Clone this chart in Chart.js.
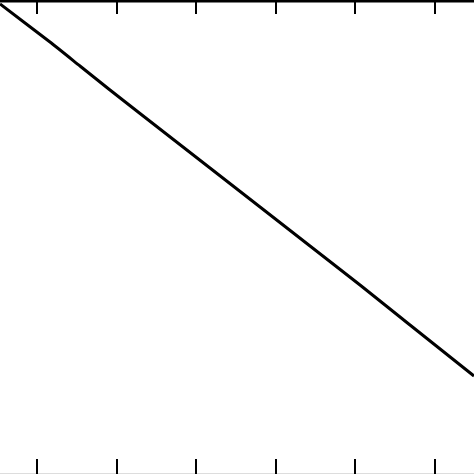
<!DOCTYPE html>
<html>
<head>
<meta charset="utf-8">
<script src="https://cdn.jsdelivr.net/npm/chart.js@4"></script>
<style>
  html, body { margin: 0; padding: 0; background: #fff; }
  #wrap { width: 474px; height: 474px; position: relative; }
</style>
</head>
<body>
<div id="wrap"><canvas id="chart"></canvas></div>
<script>
// --- Data ---
const xValues = [-0.465, 0.163, 0.540, 0.917, 1.294, 2.173, 2.802, 3.430, 4.058, 4.686, 5.490];
const yValues = [9.916, 9.114, 8.608, 8.101, 7.606, 6.456, 5.633, 4.810, 3.987, 3.143, 2.068];
const xTicks = [0, 1, 2, 3, 4, 5];

const points = xValues.map((x, i) => ({ x: x, y: yValues[i] }));

// --- Frame: thick top border, inward tick marks top and bottom ---
const framePlugin = {
    id: 'frame',
    afterDraw(chart) {
        const ctx = chart.ctx;
        const area = chart.chartArea;
        const xs = chart.scales.x;
        ctx.save();
        ctx.strokeStyle = '#000';
        ctx.lineWidth = 3;
        ctx.beginPath();
        ctx.moveTo(area.left, area.top + 1);
        ctx.lineTo(area.right, area.top + 1);
        ctx.stroke();

        ctx.strokeStyle = '#ddd';
        ctx.lineWidth = 1;
        ctx.beginPath();
        ctx.moveTo(area.left, area.bottom - 0.5);
        ctx.lineTo(area.right, area.bottom - 0.5);
        ctx.stroke();

        ctx.strokeStyle = '#000';
        ctx.lineWidth = 2;
        xTicks.forEach(t => {
            const px = Math.round(xs.getPixelForValue(t));
            ctx.beginPath();
            ctx.moveTo(px, area.top);
            ctx.lineTo(px, area.top + 14);
            ctx.moveTo(px, area.bottom);
            ctx.lineTo(px, area.bottom - 15);
            ctx.stroke();
        });
        ctx.restore();
    }
};

new Chart(document.getElementById('chart'), {
    type: 'line',
    data: {
        datasets: [{
            data: points,
            borderColor: '#000',
            borderWidth: 3,
            pointRadius: 0,
            tension: 0.2,
            fill: false
        }]
    },
    options: {
        responsive: true,
        maintainAspectRatio: false,
        animation: false,
        layout: { padding: 0 },
        plugins: { legend: { display: false }, tooltip: { enabled: false } },
        scales: {
            x: { type: 'linear', min: -0.465, max: 5.49, display: false },
            y: { type: 'linear', min: 0, max: 10, display: false }
        }
    },
    plugins: [framePlugin]
});
</script>
</body>
</html>
